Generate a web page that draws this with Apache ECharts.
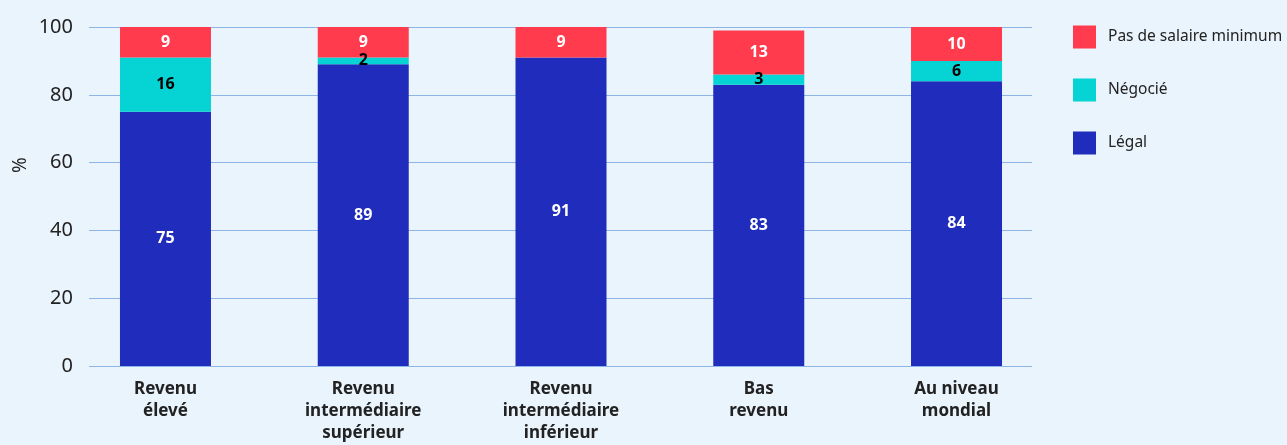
<!DOCTYPE html>
<html>
<head>
<meta charset="utf-8">
<script src="https://cdn.jsdelivr.net/npm/echarts@6/dist/echarts.min.js"></script>
<style>
  html, body { margin: 0; padding: 0; background: #EAF4FC; }
  #chart { width: 1287px; height: 445px; }
</style>
</head>
<body>
<div id="chart"></div>
<script>
// Income groups and the share (%) of countries by minimum-wage setting type
const categories = ['Revenu\nélevé', 'Revenu\nintermédiaire\nsupérieur', 'Revenu\nintermédiaire\ninférieur', 'Bas\nrevenu', 'Au niveau\nmondial'];
const legal = [75, 89, 91, 83, 84];
const negotiated = [16, 2, 0, 3, 6];
const noMinimum = [9, 9, 9, 13, 10];
const yTicks = [0, 20, 40, 60, 80, 100];

const FONT = '"Noto Sans", "Open Sans", sans-serif';
const chart = echarts.init(document.getElementById('chart'), null, { renderer: 'canvas' });

function stackSeries(name, data, color, labelColor) {
  return {
    name: name,
    type: 'bar',
    stack: 'total',
    xAxisIndex: 1,
    yAxisIndex: 1,
    barWidth: 91,
    data: data,
    itemStyle: { color: color },
    label: {
      show: true,
      position: 'inside',
      color: labelColor,
      fontFamily: FONT,
      fontWeight: 'bold',
      fontSize: 16,
      formatter: p => (p.value > 0 ? p.value : '')
    },
    emphasis: { disabled: true }
  };
}

chart.setOption({
  backgroundColor: '#EAF4FC',
  animation: false,
  textStyle: { fontFamily: FONT },
  grid: [
    // gridlines and value labels
    { left: 89, right: 255, top: 27, bottom: 79 },
    // bars and category labels
    { left: 66.6, right: 231.6, top: 27, bottom: 79 }
  ],
  graphic: [{
    type: 'text',
    x: 11,
    y: 165,
    rotation: Math.PI / 2,
    style: {
      text: '%', font: '19px ' + FONT, fill: '#222',
      textAlign: 'center', textVerticalAlign: 'top'
    }
  }],
  legend: {
    orient: 'vertical',
    left: 1073,
    top: 25.5,
    padding: 0,
    itemWidth: 23,
    itemHeight: 23,
    itemGap: 30,
    icon: 'rect',
    data: ['Pas de salaire minimum', 'Négocié', 'Légal'],
    textStyle: { fontFamily: FONT, fontSize: 15.5, color: '#222', padding: [0, 0, 0, 7] }
  },
  xAxis: [
    { type: 'category', gridIndex: 0, data: categories, show: false },
    {
      type: 'category', gridIndex: 1, data: categories,
      axisLine: { show: false }, axisTick: { show: false },
      axisLabel: {
        interval: 0, margin: 12, color: '#222', fontFamily: FONT,
        fontWeight: 'bold', fontSize: 17, lineHeight: 22
      }
    }
  ],
  yAxis: [
    {
      type: 'value', gridIndex: 0, min: yTicks[0], max: yTicks[yTicks.length - 1], interval: 20,
      axisLine: { show: false }, axisTick: { show: false },
      axisLabel: { margin: 16, color: '#222', fontFamily: FONT, fontSize: 20 },
      splitLine: { lineStyle: { color: '#8DB5E6', width: 1.2 } }
    },
    {
      type: 'value', gridIndex: 1, min: 0, max: 100, interval: 20, show: false,
      splitLine: { show: false }
    }
  ],
  series: [
    stackSeries('Légal', legal, '#202CBB', '#FFFFFF'),
    stackSeries('Négocié', negotiated, '#06D3D3', '#000000'),
    stackSeries('Pas de salaire minimum', noMinimum, '#FF3B4D', '#FFFFFF')
  ]
});
</script>
</body>
</html>
